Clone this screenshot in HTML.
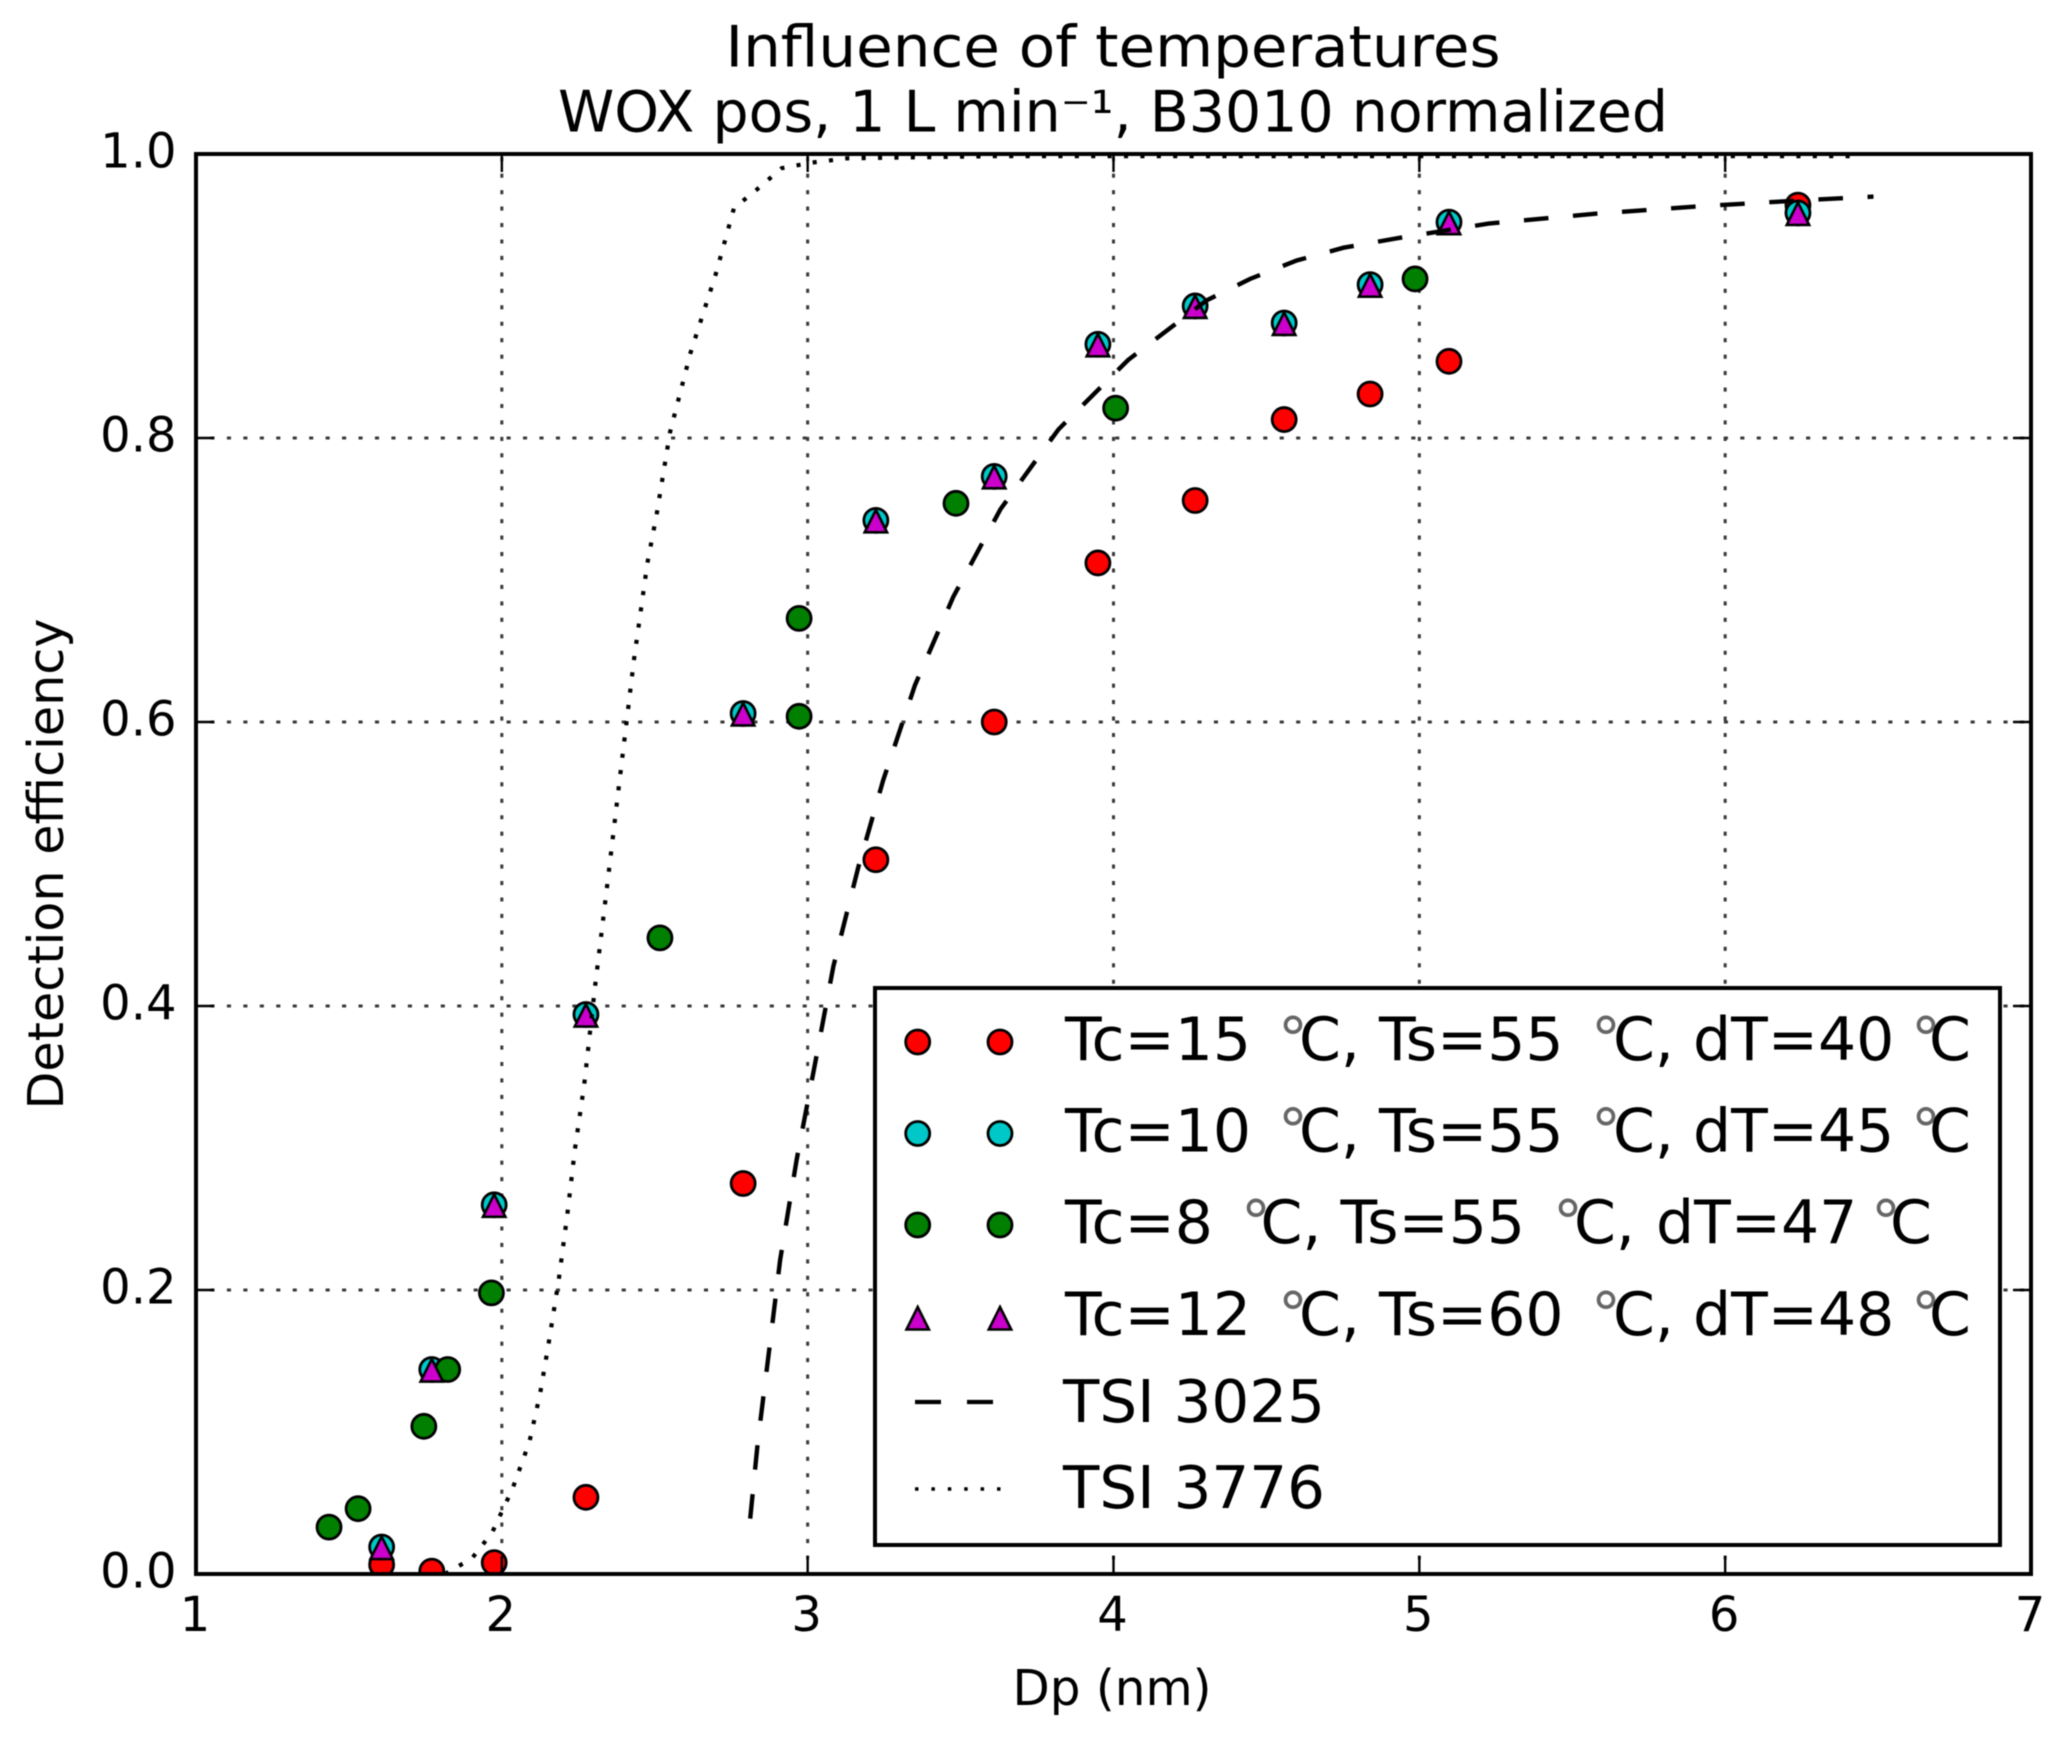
<!DOCTYPE html>
<html>
<head>
<meta charset="utf-8">
<title>Influence of temperatures</title>
<style>
html,body{margin:0;padding:0;background:#fff;width:2067px;height:1742px;overflow:hidden}
svg{display:block;filter:blur(0.6px)}
text{font-family:"DejaVu Sans","Liberation Sans",sans-serif;fill:#000}
.deg{fill:#666}
</style>
</head>
<body>
<svg id="chart" xmlns="http://www.w3.org/2000/svg" width="2067" height="1742" viewBox="0 0 2067 1742">
  <defs>
    <clipPath id="plot-clip"><rect x="196" y="154" width="1835" height="1420"/></clipPath>
  </defs>
  <rect x="0" y="0" width="2067" height="1742" fill="#fff"/>
  <text x="1113" y="66.5" font-size="57" text-anchor="middle" textLength="775" lengthAdjust="spacingAndGlyphs">Influence of temperatures</text>
  <text x="1113" y="131.5" font-size="57" text-anchor="middle" textLength="1110" lengthAdjust="spacingAndGlyphs">WOX pos, 1 L min⁻¹, B3010 normalized</text>
  <g id="grid"></g>
  <g id="series" clip-path="url(#plot-clip)"></g>
  <g id="axes"></g>
  <text x="1112" y="1705" font-size="49" text-anchor="middle" textLength="199" lengthAdjust="spacingAndGlyphs">Dp (nm)</text>
  <text transform="translate(63,864) rotate(-90)" x="0" y="0" font-size="49" text-anchor="middle" textLength="491" lengthAdjust="spacingAndGlyphs">Detection efficiency</text>

  <g id="legend">
    <rect x="875" y="988" width="1125" height="557" fill="#fff" stroke="#000" stroke-width="4"/>

    <g>
      <circle cx="917.7" cy="1042" r="12" fill="#ff0000" stroke="#000" stroke-width="2.8"/>
      <circle cx="1000" cy="1042" r="12" fill="#ff0000" stroke="#000" stroke-width="2.8"/>
      <text x="1065" y="1060" font-size="60">Tc=15 <tspan class="deg" x="1278">°</tspan><tspan x="1299">C, </tspan><tspan x="1379">Ts=55 </tspan><tspan class="deg" x="1591">°</tspan><tspan x="1613">C, </tspan><tspan x="1693">dT=40 </tspan><tspan class="deg" x="1911">°</tspan><tspan x="1929">C</tspan></text>
    </g>
    <g>
      <circle cx="917.7" cy="1133.5" r="12" fill="#00c8c8" stroke="#000" stroke-width="2.8"/>
      <circle cx="1000" cy="1133.5" r="12" fill="#00c8c8" stroke="#000" stroke-width="2.8"/>
      <text x="1065" y="1151.5" font-size="60">Tc=10 <tspan class="deg" x="1278">°</tspan><tspan x="1299">C, </tspan><tspan x="1379">Ts=55 </tspan><tspan class="deg" x="1591">°</tspan><tspan x="1613">C, </tspan><tspan x="1693">dT=45 </tspan><tspan class="deg" x="1911">°</tspan><tspan x="1929">C</tspan></text>
    </g>
    <g>
      <circle cx="917.7" cy="1225" r="12" fill="#007f00" stroke="#000" stroke-width="2.8"/>
      <circle cx="1000" cy="1225" r="12" fill="#007f00" stroke="#000" stroke-width="2.8"/>
      <text x="1065" y="1243" font-size="60">Tc=8 <tspan class="deg" x="1241">°</tspan><tspan x="1260.5">C, </tspan><tspan x="1340.5">Ts=55 </tspan><tspan class="deg" x="1553">°</tspan><tspan x="1574">C, </tspan><tspan x="1656">dT=47 </tspan><tspan class="deg" x="1871">°</tspan><tspan x="1890">C</tspan></text>
    </g>
    <g>
      <polygon points="917.7,1307 928.9,1329.5 906.5,1329.5" fill="#cc00cc" stroke="#000" stroke-width="2.6"/>
      <polygon points="1000,1307 1011.2,1329.5 988.8,1329.5" fill="#cc00cc" stroke="#000" stroke-width="2.6"/>
      <text x="1065" y="1335" font-size="60">Tc=12 <tspan class="deg" x="1278">°</tspan><tspan x="1299">C, </tspan><tspan x="1379">Ts=60 </tspan><tspan class="deg" x="1591">°</tspan><tspan x="1613">C, </tspan><tspan x="1693">dT=48 </tspan><tspan class="deg" x="1911">°</tspan><tspan x="1929">C</tspan></text>
    </g>
    <g>
      <line x1="915" y1="1402" x2="993" y2="1402" stroke="#000" stroke-width="4.2" stroke-dasharray="26 26"/>
      <text x="1063" y="1422" font-size="59" textLength="262" lengthAdjust="spacingAndGlyphs">TSI 3025</text>
    </g>
    <g>
      <line x1="915" y1="1489" x2="1003" y2="1489" stroke="#000" stroke-width="3.5" stroke-dasharray="3.5 12.9"/>
      <text x="1063" y="1508" font-size="59" textLength="262" lengthAdjust="spacingAndGlyphs">TSI 3776</text>
    </g>
  </g>
</svg>
<script>
const xTicks = [1, 2, 3, 4, 5, 6, 7];
const yTicks = [0, 0.2, 0.4, 0.6, 0.8, 1];
const yTickLabels = ['0.0', '0.2', '0.4', '0.6', '0.8', '1.0'];

const redX = [1.607, 1.771, 1.975, 2.275, 2.789, 3.223, 3.610, 3.949, 4.267, 4.558, 4.839, 5.097, 6.238];
const redY = [0.0065, 0.002, 0.008, 0.054, 0.275, 0.503, 0.600, 0.712, 0.756, 0.813, 0.831, 0.854, 0.964];

const cyanX = [1.607, 1.771, 1.975, 2.275, 2.789, 3.223, 3.610, 3.949, 4.267, 4.558, 4.839, 5.097, 6.238];
const cyanY = [0.019, 0.144, 0.260, 0.394, 0.606, 0.742, 0.773, 0.866, 0.893, 0.881, 0.908, 0.952, 0.9585];

const greenX = [1.435, 1.530, 1.745, 1.823, 1.966, 2.517, 2.972, 2.972, 3.485, 4.007, 4.986];
const greenY = [0.033, 0.046, 0.104, 0.144, 0.198, 0.448, 0.604, 0.673, 0.754, 0.821, 0.912];

const magentaX = [1.607, 1.771, 1.975, 2.275, 2.789, 3.223, 3.610, 3.949, 4.267, 4.558, 4.839, 5.097, 6.238];
const magentaY = [0.019, 0.144, 0.260, 0.394, 0.606, 0.742, 0.773, 0.866, 0.893, 0.881, 0.908, 0.952, 0.9585];

const tsi3025X = [2.812, 2.837, 2.875, 2.910, 2.964, 3.022, 3.084, 3.166, 3.247, 3.351, 3.476, 3.631, 3.820, 4.048, 4.305, 4.446, 4.599, 4.752, 4.936, 5.226, 5.581, 5.905, 6.217, 6.485];
const tsi3025Y = [0.039, 0.093, 0.159, 0.221, 0.292, 0.357, 0.428, 0.498, 0.559, 0.626, 0.688, 0.750, 0.806, 0.855, 0.897, 0.912, 0.925, 0.934, 0.941, 0.951, 0.958, 0.963, 0.967, 0.970];

const tsi3776X = [1.814, 1.902, 1.968, 2.035, 2.090, 2.125, 2.152, 2.186, 2.214, 2.239, 2.269, 2.305, 2.343, 2.381, 2.432, 2.476, 2.506, 2.550, 2.617, 2.699, 2.759, 2.834, 2.915, 3.016, 3.131, 3.629, 6.411];
const tsi3776Y = [0.0, 0.011, 0.029, 0.060, 0.093, 0.127, 0.161, 0.207, 0.253, 0.299, 0.344, 0.414, 0.482, 0.552, 0.644, 0.712, 0.746, 0.804, 0.860, 0.915, 0.962, 0.975, 0.990, 0.994, 0.997, 0.9985, 0.9985];

const plotLeft = 196, plotRight = 2031, plotTop = 154, plotBottom = 1574;
const xMin = 1, xMax = 7, yMin = 0, yMax = 1;
function xScale(v) { return plotLeft + (v - xMin) / (xMax - xMin) * (plotRight - plotLeft); }
function yScale(v) { return plotBottom - (v - yMin) / (yMax - yMin) * (plotBottom - plotTop); }

const NS = 'http://www.w3.org/2000/svg';
function mk(tag, attrs, parent) {
  const el = document.createElementNS(NS, tag);
  for (const k in attrs) el.setAttribute(k, attrs[k]);
  parent.appendChild(el);
  return el;
}
const gridG = document.getElementById('grid');
const seriesG = document.getElementById('series');
const axesG = document.getElementById('axes');
const gridStyle = {stroke: '#3a3a3a', 'stroke-width': 3, 'stroke-dasharray': '4.1 12.35', 'stroke-dashoffset': 2};

xTicks.forEach(function (t) {
  const g = mk('line', Object.assign({x1: xScale(t), x2: xScale(t), y1: plotBottom, y2: plotTop}, gridStyle), gridG);
  
  
});
yTicks.forEach(function (t) {
  const g = mk('line', Object.assign({x1: plotLeft, x2: plotRight, y1: yScale(t), y2: yScale(t)}, gridStyle), gridG);
  
  
});

function drawCircles(xs, ys, fill, name) {
  xs.forEach(function (x, i) {
    const c = mk('circle', {cx: xScale(x), cy: yScale(ys[i]), r: 12, fill: fill, stroke: '#000', 'stroke-width': 2.8}, seriesG);
    
    
  });
}
function drawTriangles(xs, ys, fill, name) {
  xs.forEach(function (x, i) {
    const cx = xScale(x), cy = yScale(ys[i]);
    const pts = cx + ',' + (cy - 10.5) + ' ' + (cx + 11.2) + ',' + (cy + 12) + ' ' + (cx - 11.2) + ',' + (cy + 12);
    const p = mk('polygon', {points: pts, fill: fill, stroke: '#000', 'stroke-width': 2.6}, seriesG);
    
    
  });
}
function linePath(xs, ys) {
  return xs.map(function (x, i) { return (i ? 'L' : 'M') + xScale(x).toFixed(1) + ' ' + yScale(ys[i]).toFixed(1); }).join(' ');
}

drawCircles(redX, redY, '#ff0000', 'point-tc15');
drawCircles(cyanX, cyanY, '#00c8c8', 'point-tc10');
drawCircles(greenX, greenY, '#007f00', 'point-tc8');
drawTriangles(magentaX, magentaY, '#cc00cc', 'point-tc12');

const dashed = mk('path', {d: linePath(tsi3025X, tsi3025Y), fill: 'none', stroke: '#000', 'stroke-width': 4.4, 'stroke-dasharray': '24.6 24.6'}, seriesG);


const dotted = mk('path', {d: linePath(tsi3776X, tsi3776Y), fill: 'none', stroke: '#000', 'stroke-width': 4.2, 'stroke-dasharray': '4.1 12.3'}, seriesG);



const tickLen = 18;
xTicks.forEach(function (t) {
  const x = xScale(t);
  const tb = mk('line', {x1: x, x2: x, y1: plotBottom, y2: plotBottom - tickLen, stroke: '#000', 'stroke-width': 2.4}, axesG);
  
  
  const tt = mk('line', {x1: x, x2: x, y1: plotTop, y2: plotTop + tickLen, stroke: '#000', 'stroke-width': 2.4}, axesG);
  
  
  const lab = mk('text', {x: x - 1, y: 1631, 'font-size': 48, 'text-anchor': 'middle'}, axesG);
  
  
  lab.textContent = String(t);
});
yTicks.forEach(function (t, i) {
  const y = yScale(t);
  const tl = mk('line', {x1: plotLeft, x2: plotLeft + tickLen, y1: y, y2: y, stroke: '#000', 'stroke-width': 2.4}, axesG);
  
  
  const tr = mk('line', {x1: plotRight, x2: plotRight - tickLen, y1: y, y2: y, stroke: '#000', 'stroke-width': 2.4}, axesG);
  
  
  const lab = mk('text', {x: 176.5, y: y + 13.5, 'font-size': 48, 'text-anchor': 'end'}, axesG);
  
  
  lab.textContent = yTickLabels[i];
});
const frame = mk('rect', {x: plotLeft, y: plotTop, width: plotRight - plotLeft, height: plotBottom - plotTop, fill: 'none', stroke: '#000', 'stroke-width': 4}, axesG);


</script>
</body>
</html>
